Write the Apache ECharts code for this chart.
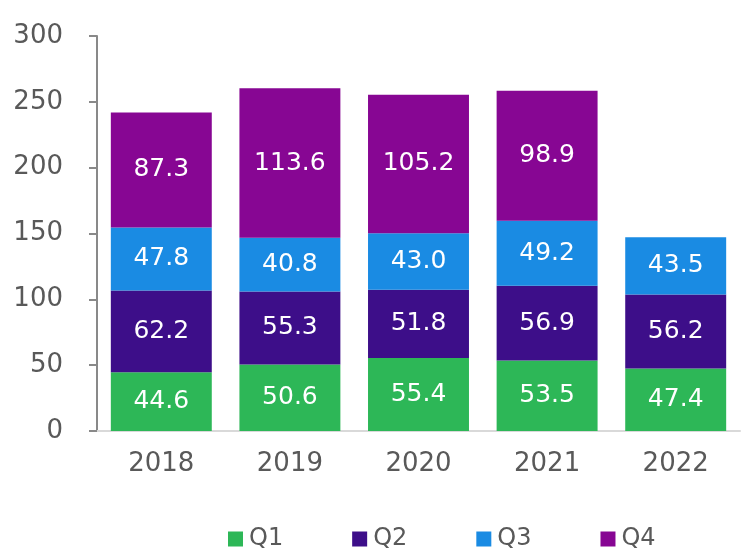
<!DOCTYPE html>
<html>
<head>
<meta charset="utf-8">
<script src="https://cdn.jsdelivr.net/npm/echarts@6/dist/echarts.min.js"></script>
<style>html,body{margin:0;padding:0;background:#fff}#c{width:752px;height:560px}</style>
</head>
<body>
<div id="c"></div>
<script>
const categories = ['2018', '2019', '2020', '2021', '2022'];
const q1 = [44.6, 50.6, 55.4, 53.5, 47.4];
const q2 = [62.2, 55.3, 51.8, 56.9, 56.2];
const q3 = [47.8, 40.8, 43.0, 49.2, 43.5];
const q4 = [87.3, 113.6, 105.2, 98.9, null];
const seriesNames = ['Q1', 'Q2', 'Q3', 'Q4'];
const colors = ['#2db757', '#3d0e89', '#1a8be3', '#870693'];
const yTicks = { min: 0, max: 300, interval: 50 };

const font = 'DejaVu Sans';
const chart = echarts.init(document.getElementById('c'));
const mk = (name, data, i) => ({
  name, type: 'bar', stack: 'total', data,
  barWidth: '78.5%',
  itemStyle: { color: colors[i] },
  label: {
    show: true, position: 'inside', color: '#fff',
    fontFamily: font, fontSize: 25,
    formatter: p => p.value == null ? '' : Number(p.value).toFixed(1)
  }
});
chart.setOption({
  animation: false,
  textStyle: { fontFamily: font },
  grid: { left: 97, right: 12, top: 36, bottom: 129 },
  legend: {
    data: seriesNames, bottom: 4, left: 223,
    icon: 'rect', itemWidth: 15, itemHeight: 15, itemGap: 69,
    textStyle: { fontFamily: font, fontSize: 24, color: '#595959', padding: [0, 0, 0, 1] }
  },
  xAxis: {
    type: 'category', data: categories,
    axisLine: { lineStyle: { color: '#d9d9d9', width: 2 } },
    axisTick: { show: false },
    axisLabel: { color: '#595959', fontFamily: font, fontSize: 26, margin: 20 }
  },
  yAxis: {
    type: 'value', min: yTicks.min, max: yTicks.max, interval: yTicks.interval,
    splitLine: { show: false },
    axisLine: { show: true, lineStyle: { color: '#898989', width: 2 } },
    axisTick: { show: true, length: 8, lineStyle: { color: '#898989', width: 2 } },
    axisLabel: { color: '#595959', fontFamily: font, fontSize: 26, margin: 34 }
  },
  series: [mk('Q1', q1, 0), mk('Q2', q2, 1), mk('Q3', q3, 2), mk('Q4', q4, 3)]
});
</script>
</body>
</html>
